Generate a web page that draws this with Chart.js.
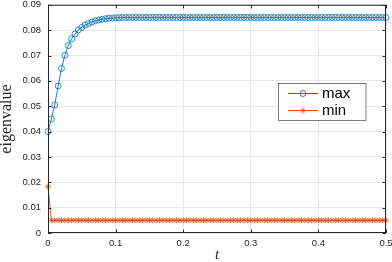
<!DOCTYPE html>
<html>
<head>
<meta charset="utf-8">
<script src="https://cdn.jsdelivr.net/npm/chart.js@4.4.0/dist/chart.umd.min.js"></script>
<style>
  html, body { margin: 0; padding: 0; background: #fff; }
</style>
</head>
<body>
<canvas id="chart" width="392" height="262"></canvas>
<script>
// ---- data ----
const tValues = [
    0, 0.005, 0.01, 0.015, 0.02, 0.025, 0.03, 0.035, 0.04, 0.045,
    0.05, 0.055, 0.06, 0.065, 0.07, 0.075, 0.08, 0.085, 0.09, 0.095,
    0.1, 0.105, 0.11, 0.115, 0.12, 0.125, 0.13, 0.135, 0.14, 0.145,
    0.15, 0.155, 0.16, 0.165, 0.17, 0.175, 0.18, 0.185, 0.19, 0.195,
    0.2, 0.205, 0.21, 0.215, 0.22, 0.225, 0.23, 0.235, 0.24, 0.245,
    0.25, 0.255, 0.26, 0.265, 0.27, 0.275, 0.28, 0.285, 0.29, 0.295,
    0.3, 0.305, 0.31, 0.315, 0.32, 0.325, 0.33, 0.335, 0.34, 0.345,
    0.35, 0.355, 0.36, 0.365, 0.37, 0.375, 0.38, 0.385, 0.39, 0.395,
    0.4, 0.405, 0.41, 0.415, 0.42, 0.425, 0.43, 0.435, 0.44, 0.445,
    0.45, 0.455, 0.46, 0.465, 0.47, 0.475, 0.48, 0.485, 0.49, 0.495,
    0.5
];

const maxValues = [
    0.0400, 0.0450, 0.0505, 0.0580, 0.0649, 0.0701, 0.0739, 0.0766, 0.0785, 0.0801,
    0.0811, 0.0820, 0.0826, 0.0832, 0.0837, 0.0840, 0.0843, 0.0845, 0.0847, 0.0848,
    0.0849, 0.0849, 0.0850, 0.0850, 0.0850, 0.0850, 0.0850, 0.0850, 0.0850, 0.0850,
    0.0850, 0.0850, 0.0850, 0.0850, 0.0850, 0.0850, 0.0850, 0.0850, 0.0850, 0.0850,
    0.0850, 0.0850, 0.0850, 0.0850, 0.0850, 0.0850, 0.0850, 0.0850, 0.0850, 0.0850,
    0.0850, 0.0850, 0.0850, 0.0850, 0.0850, 0.0850, 0.0850, 0.0850, 0.0850, 0.0850,
    0.0850, 0.0850, 0.0850, 0.0850, 0.0850, 0.0850, 0.0850, 0.0850, 0.0850, 0.0850,
    0.0850, 0.0850, 0.0850, 0.0850, 0.0850, 0.0850, 0.0850, 0.0850, 0.0850, 0.0850,
    0.0850, 0.0850, 0.0850, 0.0850, 0.0850, 0.0850, 0.0850, 0.0850, 0.0850, 0.0850,
    0.0850, 0.0850, 0.0850, 0.0850, 0.0850, 0.0850, 0.0850, 0.0850, 0.0850, 0.0850,
    0.0850
];

const minValues = [
    0.0183, 0.0050, 0.0050, 0.0050, 0.0050, 0.0050, 0.0050, 0.0050, 0.0050, 0.0050,
    0.0050, 0.0050, 0.0050, 0.0050, 0.0050, 0.0050, 0.0050, 0.0050, 0.0050, 0.0050,
    0.0050, 0.0050, 0.0050, 0.0050, 0.0050, 0.0050, 0.0050, 0.0050, 0.0050, 0.0050,
    0.0050, 0.0050, 0.0050, 0.0050, 0.0050, 0.0050, 0.0050, 0.0050, 0.0050, 0.0050,
    0.0050, 0.0050, 0.0050, 0.0050, 0.0050, 0.0050, 0.0050, 0.0050, 0.0050, 0.0050,
    0.0050, 0.0050, 0.0050, 0.0050, 0.0050, 0.0050, 0.0050, 0.0050, 0.0050, 0.0050,
    0.0050, 0.0050, 0.0050, 0.0050, 0.0050, 0.0050, 0.0050, 0.0050, 0.0050, 0.0050,
    0.0050, 0.0050, 0.0050, 0.0050, 0.0050, 0.0050, 0.0050, 0.0050, 0.0050, 0.0050,
    0.0050, 0.0050, 0.0050, 0.0050, 0.0050, 0.0050, 0.0050, 0.0050, 0.0050, 0.0050,
    0.0050, 0.0050, 0.0050, 0.0050, 0.0050, 0.0050, 0.0050, 0.0050, 0.0050, 0.0050,
    0.0050
];

const xTickLabels = ['0', '0.1', '0.2', '0.3', '0.4', '0.5'];
const yTickLabels = ['0', '0.01', '0.02', '0.03', '0.04', '0.05', '0.06', '0.07', '0.08', '0.09'];
const seriesNames = ['max', 'min'];

const BLUE = '#0072BD';
const ORANGE = '#D95319';
const AXIS = '#262626';
const GRID = '#e8e8e8';
const TICK_FONT = { family: 'Liberation Sans', size: 9.5 };

function toPoints(ys) {
    return tValues.map((t, i) => ({ x: t, y: ys[i] }));
}

// MATLAB style box, inward ticks, axis labels and legend
const matlabAxes = {
    id: 'matlabAxes',
    afterDatasetsDraw(chart) {
        const { ctx, chartArea: a, scales: { x, y } } = chart;
        ctx.save();
        ctx.strokeStyle = AXIS;
        ctx.lineWidth = 1;
        ctx.strokeRect(a.left + 0.5, a.top + 0.5, a.right - a.left - 1, a.bottom - a.top - 1);

        const len = 3.5;
        ctx.beginPath();
        x.ticks.forEach(tk => {
            const px = Math.round(x.getPixelForValue(tk.value)) + 0.5;
            ctx.moveTo(px, a.bottom); ctx.lineTo(px, a.bottom - len);
            ctx.moveTo(px, a.top); ctx.lineTo(px, a.top + len);
        });
        y.ticks.forEach(tk => {
            const py = Math.round(y.getPixelForValue(tk.value)) + 0.5;
            ctx.moveTo(a.left, py); ctx.lineTo(a.left + len, py);
            ctx.moveTo(a.right, py); ctx.lineTo(a.right - len, py);
        });
        ctx.stroke();
        ctx.restore();
    },
    afterDraw(chart) {
        const { ctx, chartArea: a } = chart;
        ctx.save();
        ctx.fillStyle = AXIS;

        // x label
        ctx.font = 'italic 15px "Liberation Serif"';
        ctx.textAlign = 'center';
        ctx.textBaseline = 'alphabetic';
        ctx.fillText('t', (a.left + a.right) / 2, 259);

        // y label
        ctx.translate(11, 119);
        ctx.rotate(-Math.PI / 2);
        ctx.font = '16px "Liberation Serif"';
        ctx.textBaseline = 'alphabetic';
        ctx.fillText('eigenvalue', 0, 0);
        ctx.restore();

        // legend
        ctx.save();
        const bx = 278.5, by = 83.5, bw = 87.5, bh = 37;
        ctx.fillStyle = '#fff';
        ctx.fillRect(bx, by, bw, bh);
        ctx.strokeStyle = '#262626';
        ctx.lineWidth = 0.6;
        ctx.strokeRect(bx, by, bw, bh);

        const rows = [
            { name: seriesNames[0], color: BLUE, y: 93.5, marker: 'circle' },
            { name: seriesNames[1], color: ORANGE, y: 110.5, marker: 'star' }
        ];
        rows.forEach(r => {
            ctx.strokeStyle = r.color;
            ctx.lineWidth = 1;
            ctx.beginPath();
            ctx.moveTo(288, r.y); ctx.lineTo(318, r.y);
            ctx.stroke();
            ctx.lineWidth = 0.9;
            ctx.beginPath();
            if (r.marker === 'circle') {
                ctx.arc(303, r.y, 3, 0, Math.PI * 2);
            } else {
                const s = 3;
                ctx.moveTo(303 - s, r.y); ctx.lineTo(303 + s, r.y);
                ctx.moveTo(303, r.y - s); ctx.lineTo(303, r.y + s);
                const d = s * 0.7071;
                ctx.moveTo(303 - d, r.y - d); ctx.lineTo(303 + d, r.y + d);
                ctx.moveTo(303 - d, r.y + d); ctx.lineTo(303 + d, r.y - d);
            }
            ctx.stroke();
            ctx.fillStyle = '#000';
            ctx.font = '15px "Liberation Sans"';
            ctx.textAlign = 'left';
            ctx.textBaseline = 'middle';
            ctx.fillText(r.name, 322, r.y + 0.5);
        });
        ctx.restore();
    }
};

new Chart(document.getElementById('chart'), {
    type: 'line',
    data: {
        datasets: [
            {
                label: seriesNames[0],
                data: toPoints(maxValues),
                borderColor: BLUE,
                borderWidth: 0.9,
                pointStyle: 'circle',
                pointRadius: 3,
                pointBorderWidth: 0.8,
                pointBorderColor: BLUE,
                pointBackgroundColor: 'rgba(0,0,0,0)',
                tension: 0,
                clip: false
            },
            {
                label: seriesNames[1],
                data: toPoints(minValues),
                borderColor: ORANGE,
                borderWidth: 0.9,
                pointStyle: 'star',
                pointRadius: 3,
                pointBorderWidth: 0.8,
                pointBorderColor: ORANGE,
                pointBackgroundColor: ORANGE,
                tension: 0,
                clip: false
            }
        ]
    },
    options: {
        responsive: false,
        animation: false,
        events: [],
        layout: { padding: { top: 4, right: 6, left: 0, bottom: 0 } },
        plugins: { legend: { display: false }, tooltip: { enabled: false } },
        scales: {
            x: {
                type: 'linear',
                min: 0,
                max: 0.5,
                afterBuildTicks: s => { s.ticks = xTickLabels.map(v => ({ value: parseFloat(v) })); },
                afterFit: s => {
                    s.height = 29;
                    s.paddingLeft = 0; s.paddingRight = 0;
                    s.paddingTop = 0; s.paddingBottom = 0;
                },
                ticks: {
                    callback: (v, i) => xTickLabels[i],
                    font: TICK_FONT,
                    color: AXIS,
                    padding: 5,
                    maxRotation: 0
                },
                grid: { color: GRID, drawTicks: false, lineWidth: 1 },
                border: { display: false }
            },
            y: {
                type: 'linear',
                min: 0,
                max: 0.09,
                afterBuildTicks: s => { s.ticks = yTickLabels.map(v => ({ value: parseFloat(v) })); },
                afterFit: s => {
                    s.width = 48;
                    s.paddingLeft = 0; s.paddingRight = 0;
                    s.paddingTop = 0; s.paddingBottom = 0;
                },
                ticks: {
                    callback: (v, i) => yTickLabels[i],
                    font: TICK_FONT,
                    color: AXIS,
                    padding: 7
                },
                grid: { color: GRID, drawTicks: false, lineWidth: 1 },
                border: { display: false }
            }
        }
    },
    plugins: [matlabAxes]
});
</script>
</body>
</html>
